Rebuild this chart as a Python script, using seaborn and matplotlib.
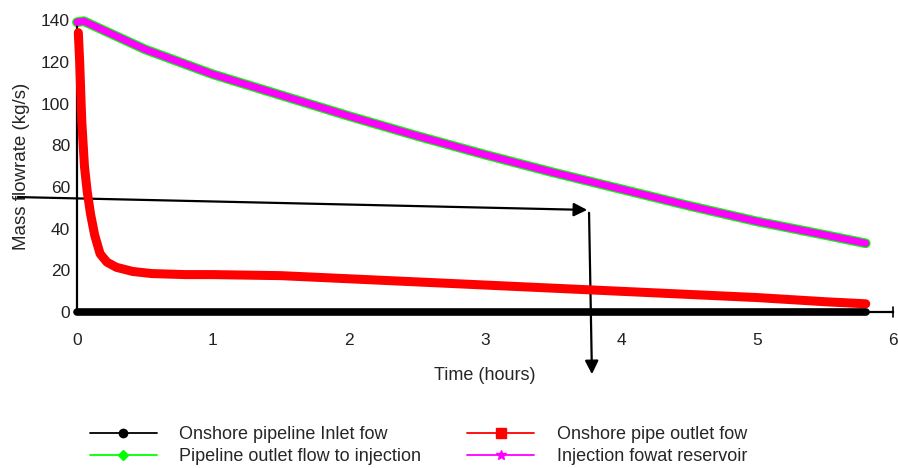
import matplotlib
matplotlib.use("Agg")
import matplotlib.pyplot as plt
import seaborn as sns
import numpy as np
from matplotlib.lines import Line2D

sns.set_style("white")
plt.rcParams['font.family'] = ['Liberation Sans', 'DejaVu Sans']

# Data
t_inlet = [0.0, 0.5, 1, 2, 3, 4, 5, 5.8]
inlet_flow = [0, 0, 0, 0, 0, 0, 0, 0]

t_outlet = [0.01, 0.02, 0.035, 0.055, 0.075, 0.1, 0.13, 0.17, 0.22, 0.29, 0.41, 0.55, 0.8, 1.0,
            1.5, 2.0, 2.5, 3.0, 3.5, 4.0, 4.5, 5.0, 5.5, 5.8]
outlet_flow = [134, 120, 92, 70, 58, 47, 37, 28, 24, 21.5, 19.5, 18.5, 18, 18,
               17.5, 16, 14.5, 13, 11.5, 10, 8.5, 7, 5, 4]

t_inj = [0.0, 0.05, 0.5, 1, 1.5, 2, 2.5, 3, 3.5, 4, 4.5, 5, 5.5, 5.8]
inj_flow = [139, 139.5, 126, 114, 104, 94, 84.5, 75.5, 67, 59, 51, 43.5, 37, 33]
res_flow = [139, 139.5, 126, 114, 104, 94, 84.5, 75.5, 67, 59, 51, 43.5, 37, 33]

labels = ["Onshore pipeline Inlet fow", "Pipeline outlet flow to injection",
          "Onshore pipe outlet fow", "Injection fowat reservoir"]
xticks = [0, 1, 2, 3, 4, 5, 6]
yticks = [0, 20, 40, 60, 80, 100, 120, 140]
yminor = [10, 30, 50, 70, 90, 110, 130]

fig = plt.figure(figsize=(8.98, 4.68), dpi=100)
ax = fig.add_axes([0.0857, 0.333, 0.9087, 0.624])

sns.lineplot(x=t_inj, y=inj_flow, ax=ax, color="#00ff00", linewidth=7, clip_on=False, zorder=2)
sns.lineplot(x=t_inj, y=res_flow, ax=ax, color="#ff00ff", linewidth=5.2, clip_on=False, zorder=3)
sns.lineplot(x=t_outlet, y=outlet_flow, ax=ax, color="#ff0000", linewidth=6.5, clip_on=False, zorder=4)
sns.lineplot(x=t_inlet, y=inlet_flow, ax=ax, color="#000000", linewidth=5.5, clip_on=False, zorder=5)

ax.set_xlim(0, 6)
ax.set_ylim(0, 140)
ax.set_xticks(xticks)
ax.set_yticks(yticks)
ax.set_yticks(yminor, minor=True)
for s in ["top", "right"]:
    ax.spines[s].set_visible(False)
for s in ["left", "bottom"]:
    ax.spines[s].set_color("black")
    ax.spines[s].set_linewidth(1.6)
ax.tick_params(axis="y", which="major", direction="out", length=5, width=1.3,
               labelsize=12.5, colors="black", labelcolor="#222222", pad=0)
ax.tick_params(axis="y", which="minor", direction="out", length=3, width=1.0, color="black")
ax.tick_params(axis="x", which="major", length=0, labelsize=12.5, labelcolor="#222222", pad=15)
ax.plot([6, 6], [-2.5, 2.5], color="black", lw=1.2, clip_on=False)
ax.set_xlabel("Time (hours)", fontsize=13, labelpad=14)
ax.set_ylabel("Mass flowrate (kg/s)", fontsize=13.5, labelpad=8)
ax.grid(False)

# Annotation arrows (figure coordinates)
ax.annotate("", xy=(590/898, 1-210/468), xytext=(15/898, 1-197/468),
            xycoords="figure fraction", textcoords="figure fraction",
            arrowprops=dict(arrowstyle="-|>", color="black", lw=1.6, mutation_scale=20))
ax.annotate("", xy=(592/898, 1-377/468), xytext=(589/898, 1-210/468),
            xycoords="figure fraction", textcoords="figure fraction",
            arrowprops=dict(arrowstyle="-|>", color="black", lw=1.6, mutation_scale=20))

handles = [
    Line2D([], [], color="black", marker="o", markersize=6, lw=1.3),
    Line2D([], [], color="#00ff00", marker="D", markersize=5.5, lw=1.3),
    Line2D([], [], color="#ff0000", marker="s", markersize=6.5, lw=1.3),
    Line2D([], [], color="#ff00ff", marker="*", markersize=7, lw=1.3),
]
fig.legend(handles, labels, ncol=2, loc="upper left", bbox_to_anchor=(90/898, 1-426/468),
           frameon=False, fontsize=13, handlelength=3.7, handletextpad=1.25,
           columnspacing=2.55, labelspacing=0.3, borderpad=0, borderaxespad=0)

fig.savefig("out.png", dpi=100)
